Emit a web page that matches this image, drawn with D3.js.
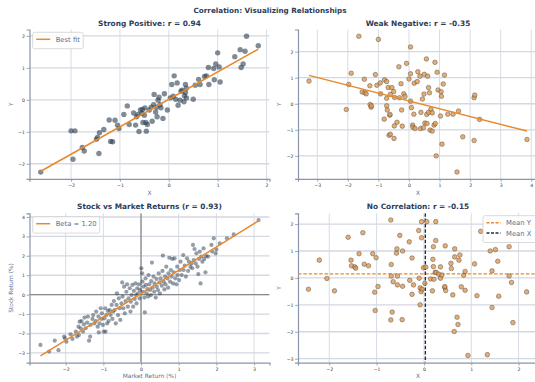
<!DOCTYPE html>
<html><head><meta charset="utf-8">
<script src="https://cdn.jsdelivr.net/npm/d3@7"></script>
<style>body{margin:0;background:#fff}svg{display:block;font-family:"DejaVu Sans",sans-serif}</style>
</head><body><svg id="c" width="535" height="382"></svg>
<script>
// ---------- data ----------
const strongX = [-2.62,-2.0,-1.92,-1.96,-1.77,-1.73,-1.48,-1.46,-1.42,-1.43,-1.33,-1.22,-1.19,-1.15,-1.1,-1.05,-1.02,-0.92,-0.85,-0.81,-0.72,-0.68,-0.66,-0.63,-0.61,-0.58,-0.55,-0.54,-0.53,-0.5,-0.49,-0.46,-0.47,-0.44,-0.4,-0.36,-0.34,-0.3,-0.31,-0.27,-0.25,-0.24,-0.22,-0.2,-0.18,-0.16,-0.12,-0.09,-0.03,0.03,0.06,0.09,0.11,0.14,0.17,0.19,0.23,0.25,0.27,0.31,0.32,0.34,0.36,0.36,0.34,0.5,0.54,0.61,0.64,0.73,0.77,0.81,0.82,0.92,0.93,0.96,1.0,1.03,1.05,1.35,1.46,1.48,1.52,1.56,1.59,1.83];
const strongY = [-2.26,-0.97,-0.97,-1.86,-1.49,-1.6,-1.23,-1.18,-1.03,-1.68,-0.93,-0.63,-1.3,-1.31,-0.64,-0.79,-0.9,-0.46,-0.19,-0.77,-0.41,-0.79,-0.53,-0.46,-0.99,-0.32,-0.42,-0.3,-0.71,-0.48,-0.25,-0.98,-0.71,-0.77,-0.32,-0.23,-0.67,0.17,-0.15,-0.38,-0.23,-0.53,-0.01,0.08,-0.15,-0.25,-0.58,0.19,-0.32,0.06,0.48,0.11,0.75,0.02,0.53,-0.17,-0.01,0.27,0.3,-0.06,0.13,0.48,0.36,0.06,0.23,0.02,0.46,0.64,0.48,0.73,0.75,1.01,0.48,0.98,0.63,1.12,1.47,1.03,0.56,1.35,1.57,1.01,1.12,1.52,1.99,1.69];
const weakX = [-3.27,-2.05,-1.97,-1.89,-1.64,-1.46,-1.53,-1.44,-1.4,-1.28,-1.27,-1.24,-1.23,-1.1,-1.05,-1.0,-0.94,-0.93,-0.81,-0.8,-0.73,-0.73,-0.73,-0.71,-0.68,-0.65,-0.63,-0.62,-0.61,-0.61,-0.56,-0.5,-0.49,-0.48,-0.47,-0.39,-0.33,-0.31,-0.26,-0.24,-0.22,-0.17,-0.13,-0.08,0.0,0.05,0.05,0.05,0.08,0.12,0.13,0.16,0.17,0.2,0.27,0.29,0.36,0.38,0.39,0.44,0.47,0.49,0.5,0.52,0.57,0.58,0.59,0.61,0.64,0.64,0.67,0.69,0.72,0.76,0.76,0.82,0.85,0.86,0.89,0.92,0.95,1.03,1.05,1.06,1.08,1.12,1.16,1.27,1.44,1.57,1.62,1.76,2.13,2.13,2.15,2.31,3.86];
const weakY = [0.87,-0.22,0.74,1.17,2.59,0.94,0.45,0.42,0.38,0.69,-0.03,-0.13,-0.08,1.12,0.71,2.47,0.8,0.38,-0.59,0.92,0.85,0.21,-0.08,-0.24,0.62,-1.21,-0.44,-0.41,0.36,-1.17,0.62,0.47,-1.33,-0.85,0.24,-0.71,1.42,0.23,0.77,-0.24,-0.86,0.38,0.28,1.55,0.95,1.15,2.18,0.1,-0.15,-0.82,-0.9,-0.4,0.79,-0.95,0.85,1.23,1.06,-0.95,-0.33,0.18,-0.92,0.37,1.13,-0.74,1.72,-0.41,-0.76,1.06,0.62,-0.33,0.42,-1.01,-0.21,-1.05,-0.35,-0.82,1.59,-0.76,-2.0,1.21,0.53,-0.47,0.46,0.29,-1.55,0.76,1.1,-0.4,-0.4,-2.62,-0.28,-1.27,-1.41,0.23,0.33,-0.6,-1.37];
const marketX = [-2.67,-2.44,-2.29,-2.19,-2.04,-2.02,-1.98,-1.87,-1.82,-1.73,-1.7,-1.66,-1.65,-1.63,-1.6,-1.58,-1.54,-1.52,-1.5,-1.47,-1.43,-1.41,-1.38,-1.35,-1.34,-1.29,-1.27,-1.24,-1.2,-1.19,-1.15,-1.13,-1.12,-1.1,-1.07,-1.05,-1.04,-1.01,-0.99,-0.97,-0.95,-0.94,-0.92,-0.9,-0.88,-0.86,-0.83,-0.81,-0.78,-0.76,-0.74,-0.72,-0.7,-0.67,-0.65,-0.64,-0.61,-0.59,-0.57,-0.55,-0.52,-0.5,-0.49,-0.47,-0.45,-0.43,-0.41,-0.39,-0.37,-0.35,-0.33,-0.3,-0.28,-0.27,-0.25,-0.23,-0.21,-0.19,-0.17,-0.15,-0.13,-0.12,-0.1,-0.08,-0.06,-0.04,-0.03,0.01,0.03,0.04,0.05,0.07,0.09,0.1,0.12,0.13,0.15,0.17,0.19,0.2,0.22,0.24,0.26,0.27,0.29,0.31,0.33,0.35,0.36,0.39,0.41,0.42,0.45,0.47,0.49,0.5,0.52,0.55,0.57,0.58,0.6,0.62,0.64,0.65,0.67,0.7,0.72,0.73,0.75,0.77,0.79,0.81,0.83,0.85,0.87,0.89,0.91,0.94,0.96,0.97,1.01,1.03,1.05,1.08,1.12,1.13,1.16,1.19,1.22,1.25,1.27,1.31,1.34,1.36,1.38,1.4,1.42,1.45,1.47,1.5,1.52,1.54,1.56,1.58,1.6,1.63,1.66,1.68,1.71,1.73,1.78,1.87,1.89,1.93,1.98,2.0,2.09,2.28,2.46,3.12];
const marketY = [-2.59,-2.93,-2.37,-2.86,-2.16,-2.25,-2.42,-2.04,-2.28,-1.9,-2.16,-1.65,-2.08,-1.39,-1.73,-1.36,-1.9,-1.53,-1.18,-1.73,-1.44,-1.13,-2.37,-2.16,-1.56,-1.25,-1.05,-1.48,-1.36,-0.87,-1.65,-1.13,-1.94,-1.48,-0.7,-1.25,-0.96,-1.56,-1.9,-1.22,-0.7,-1.9,-1.05,-1.48,-0.84,-1.36,-0.79,-1.05,-0.53,-1.25,-0.87,-0.33,-0.79,-1.48,-0.53,0.07,-1.05,-0.19,-0.7,-1.3,-0.45,0.63,-0.1,-0.7,0.41,-0.96,-0.33,0.15,0.53,-0.62,-0.19,0.33,-0.87,-0.36,-0.02,0.5,-0.62,0.19,-0.22,0.58,-0.02,-0.45,0.33,0.07,0.53,-0.19,0.24,1.36,1.1,0.67,0.15,0.41,-0.15,-0.91,0.84,0.5,0.07,0.29,-0.1,1.01,0.53,0.24,-0.02,0.7,1.65,0.36,0.93,0.15,0.58,-0.15,0.81,0.41,0.24,1.1,0.63,0.07,0.84,0.46,1.22,2.01,0.67,0.27,0.93,0.53,1.44,0.84,0.36,1.1,1.9,0.67,1.27,0.93,1.84,0.58,1.15,1.87,0.84,0.53,1.44,1.01,0.75,1.27,1.7,1.01,2.04,1.27,1.49,0.93,1.87,1.22,1.7,1.44,1.61,1.36,2.56,1.78,2.35,1.61,2.13,1.44,1.06,1.84,2.22,0.58,1.96,1.7,2.38,1.84,1.15,1.99,1.96,2.56,2.22,2.9,2.13,2.33,2.64,2.9,3.1,3.84];
const noneX = [-2.44,-2.21,-2.05,-1.89,-1.6,-1.54,-1.53,-1.46,-1.44,-1.37,-1.29,-1.26,-1.17,-1.08,-1.04,-1.03,-1.01,-0.97,-0.7,-0.69,-0.7,-0.69,-0.67,-0.65,-0.58,-0.57,-0.56,-0.56,-0.51,-0.46,-0.45,-0.45,-0.31,-0.3,-0.25,-0.25,-0.22,-0.11,-0.1,-0.08,-0.08,-0.06,-0.05,-0.04,-0.05,-0.01,0.02,0.06,0.04,0.14,0.18,0.19,0.2,0.2,0.21,0.24,0.25,0.25,0.26,0.31,0.35,0.35,0.38,0.44,0.45,0.46,0.44,0.57,0.58,0.61,0.64,0.65,0.65,0.7,0.72,0.74,0.76,0.79,0.84,0.87,0.87,0.93,1.07,1.12,1.2,1.4,1.44,1.44,1.34,1.51,1.56,1.58,1.8,1.8,1.85,1.88,2.17];
const noneY = [-0.42,0.66,-0.02,-0.48,1.51,0.66,0.45,0.41,0.36,0.9,1.68,0.51,0.45,0.9,-0.53,-1.21,0.75,-0.32,2.15,0.5,-1.56,0.07,-1.27,-0.14,0.92,1.08,0.07,-0.26,1.58,-1.55,1.0,-0.31,1.34,-0.09,0.74,-0.61,-0.26,1.76,-0.01,-1.0,-0.37,-0.51,1.49,-0.42,2.09,0.38,-0.2,2.09,0.4,-0.04,-0.48,0.69,1.16,0.42,-0.05,0.21,2.09,1.39,0.2,0.14,-0.01,0.41,0.11,-0.36,1.19,-0.47,-0.32,0.54,0.35,-0.63,-1.99,1.08,0.78,-1.46,-1.73,0.66,0.85,-0.33,0.1,0.24,-0.46,-2.88,0.52,-0.66,1.73,1.0,0.26,-1.1,-2.85,1.05,0.62,-0.68,1.16,0.07,-0.17,-1.66,-0.52];
// fitted lines: [slope, intercept]
const strongFit = [0.858, 0.014];
const weakFit = [-0.30, 0.109];
const betaFit = [1.20, 0.055];
const meanY = 0.15, meanX = 0.03;
const titles = ["Strong Positive: r = 0.94","Weak Negative: r = -0.35","Stock vs Market Returns (r = 0.93)","No Correlation: r = -0.15"];
const xLabels = ["X","X","Market Return (%)","X"];
const yLabels = ["Y","Y","Stock Return (%)","Y"];
const ticks = [
  {x:[-2,-1,0,1,2], y:[-2,-1,0,1,2]},
  {x:[-3,-2,-1,0,1,2,3,4], y:[-2,-1,0,1,2]},
  {x:[-2,-1,0,1,2,3], y:[-3,-2,-1,0,1,2,3,4]},
  {x:[-2,-1,0,1,2], y:[-3,-2,-1,0,1,2]}
];

// ---------- layout / style ----------
const NAVY = "#2a3d5a", ORANGE = "#e8892b", GRID = "#d3d8e1", SPINE = "#8995a8", LABEL = "#5b6f8f", TICK = "#333";
const panels = [
  {x0:29.5, y0:29.5, xd:[-2.85,2.06], yd:[-2.47,2.2]},
  {x0:298, y0:29.5, xd:[-3.63,4.22], yd:[-2.88,2.85]},
  {x0:29.5, y0:213.3, xd:[-2.96,3.41], yd:[-3.5,4.19]},
  {x0:298, y0:213.3, xd:[-2.66,2.41], yd:[-3.145,2.40]}
];
const W = 240, H = 149.3;
const svg = d3.select("#c");
// font sizes fitted to text widths measured on the reference
function sizeFor(str, weight, target){
  const t = svg.append("text").attr("font-size",10).attr("font-weight",weight).text(str);
  const w = t.node().getComputedTextLength(); t.remove();
  return 10*target/w;
}
const FS_SUP = sizeFor("Correlation: Visualizing Relationships","bold",153);
const FS_TITLE = sizeFor("Strong Positive: r = 0.94","bold",103);
const FS_LABEL = sizeFor("Market Return (%)","normal",53.5);
const FS_TICK = sizeFor("\u22122","normal",6.8);
const FS_LEG = sizeFor("Beta = 1.20","normal",41);

svg.append("text").attr("x",270).attr("y",13).attr("text-anchor","middle")
  .attr("font-size",FS_SUP).attr("font-weight","bold").attr("fill",NAVY).text("Correlation: Visualizing Relationships");
const fmt = d => d < 0 ? "\u2212" + Math.abs(d) : String(d);

function makePanel(i){
  const p = panels[i];
  const x = d3.scaleLinear().domain(p.xd).range([p.x0, p.x0+W]);
  const y = d3.scaleLinear().domain(p.yd).range([p.y0+H, p.y0]);
  const g = svg.append("g");
  g.selectAll(".gx").data(ticks[i].x).join("line").attr("x1",d=>x(d)).attr("x2",d=>x(d))
    .attr("y1",p.y0).attr("y2",p.y0+H).attr("stroke",GRID).attr("stroke-width",0.9);
  g.selectAll(".gy").data(ticks[i].y).join("line").attr("y1",d=>y(d)).attr("y2",d=>y(d))
    .attr("x1",p.x0).attr("x2",p.x0+W).attr("stroke",GRID).attr("stroke-width",1.3);
  const ax = g.append("g").attr("transform",`translate(0,${p.y0+H})`)
    .call(d3.axisBottom(x).tickValues(ticks[i].x).tickFormat(fmt).tickSize(3).tickPadding(2));
  const ay = g.append("g").attr("transform",`translate(${p.x0},0)`)
    .call(d3.axisLeft(y).tickValues(ticks[i].y).tickFormat(fmt).tickSize(3).tickPadding(1.5));
  [ax,ay].forEach(a=>{
    a.select(".domain").attr("stroke",SPINE).attr("stroke-width",1.2);
    a.selectAll(".tick line").attr("stroke",SPINE).attr("stroke-width",0.8);
    a.selectAll("text").attr("font-size",FS_TICK).attr("fill",TICK).attr("font-family","DejaVu Sans");
  });
  g.append("text").attr("x",p.x0+W/2).attr("y",p.y0-4).attr("text-anchor","middle")
    .attr("font-size",FS_TITLE).attr("font-weight","bold").attr("fill",NAVY).text(titles[i]);
  g.append("text").attr("x",p.x0+W/2).attr("y",p.y0+H+15.8).attr("text-anchor","middle")
    .attr("font-size",FS_LABEL).attr("fill",LABEL).text(xLabels[i]);
  g.append("text").attr("transform",`translate(${p.x0-17},${p.y0+H/2}) rotate(-90)`).attr("text-anchor","middle")
    .attr("font-size",FS_LABEL).attr("fill",LABEL).text(yLabels[i]);
  const clip = "clip"+i;
  svg.append("clipPath").attr("id",clip).append("rect").attr("x",p.x0).attr("y",p.y0).attr("width",W).attr("height",H);
  const plot = g.append("g").attr("clip-path",`url(#${clip})`);
  return {x,y,g,plot,p};
}
function fitLine(P, xs, fit){
  const ex = d3.extent(xs);
  P.plot.append("line").attr("x1",P.x(ex[0])).attr("y1",P.y(fit[0]*ex[0]+fit[1]))
    .attr("x2",P.x(ex[1])).attr("y2",P.y(fit[0]*ex[1]+fit[1]))
    .attr("stroke",ORANGE).attr("stroke-width",1.5);
}
function legend(g, x0, y0, w, items){
  const h = 6 + items.length*10.4;
  g.append("rect").attr("x",x0).attr("y",y0).attr("width",w).attr("height",h).attr("rx",2)
    .attr("fill","#fff").attr("fill-opacity",0.85).attr("stroke","#d0d0d0").attr("stroke-width",0.8);
  items.forEach((it,k)=>{
    const yy = y0 + 7 + k*10.4;
    g.append("line").attr("x1",x0+3.5).attr("x2",x0+17.5).attr("y1",yy).attr("y2",yy)
      .attr("stroke",it.color).attr("stroke-width",1.5).attr("stroke-dasharray",it.dash||null);
    g.append("text").attr("x",x0+23).attr("y",yy+2.4).attr("font-size",FS_LEG).attr("fill",LABEL).text(it.label);
  });
}

// Panel 1
{
  const P = makePanel(0);
  P.plot.selectAll("circle").data(strongX).join("circle").attr("cx",d=>P.x(d)).attr("cy",(d,k)=>P.y(strongY[k]))
    .attr("r",2.7).attr("fill","#2c3e50").attr("fill-opacity",0.6);
  fitLine(P, strongX, strongFit);
  legend(P.g, 32.7, 32.3, 50.5, [{label:"Best fit", color:ORANGE}]);
}
// Panel 2
{
  const P = makePanel(1);
  P.plot.selectAll("circle").data(weakX).join("circle").attr("cx",d=>P.x(d)).attr("cy",(d,k)=>P.y(weakY[k]))
    .attr("r",2.3).attr("fill","#e09a50").attr("fill-opacity",0.8).attr("stroke","#3a3a3a").attr("stroke-width",0.5).attr("stroke-opacity",0.8);
  fitLine(P, weakX, weakFit);
}
// Panel 3
{
  const P = makePanel(2);
  P.plot.append("line").attr("x1",P.p.x0).attr("x2",P.p.x0+W).attr("y1",P.y(0)).attr("y2",P.y(0)).attr("stroke","#8a8a8a").attr("stroke-width",1.3);
  P.plot.append("line").attr("y1",P.p.y0).attr("y2",P.p.y0+H).attr("x1",P.x(0)).attr("x2",P.x(0)).attr("stroke","#8a8a8a").attr("stroke-width",1.3);
  P.plot.selectAll("circle").data(marketX).join("circle").attr("cx",d=>P.x(d)).attr("cy",(d,k)=>P.y(marketY[k]))
    .attr("r",2.1).attr("fill","#2c3e50").attr("fill-opacity",0.5);
  fitLine(P, marketX, betaFit);
  legend(P.g, 32.7, 216.7, 67, [{label:"Beta = 1.20", color:ORANGE}]);
}
// Panel 4
{
  const P = makePanel(3);
  P.plot.append("line").attr("x1",P.p.x0).attr("x2",P.p.x0+W).attr("y1",P.y(meanY)).attr("y2",P.y(meanY))
    .attr("stroke",ORANGE).attr("stroke-width",1.4).attr("stroke-dasharray","3.5,1.8");
  P.plot.append("line").attr("y1",P.p.y0).attr("y2",P.p.y0+H).attr("x1",P.x(meanX)).attr("x2",P.x(meanX))
    .attr("stroke","#1f2f4a").attr("stroke-width",1.4).attr("stroke-dasharray","3.5,1.8");
  P.plot.selectAll("circle").data(noneX).join("circle").attr("cx",d=>P.x(d)).attr("cy",(d,k)=>P.y(noneY[k]))
    .attr("r",2.3).attr("fill","#e09a50").attr("fill-opacity",0.8).attr("stroke","#3a3a3a").attr("stroke-width",0.5).attr("stroke-opacity",0.8);
  legend(P.g, 483, 215.7, 60, [{label:"Mean Y", color:ORANGE, dash:"3,1.5"},{label:"Mean X", color:"#1f2f4a", dash:"3,1.5"}]);
}
</script></body></html>
